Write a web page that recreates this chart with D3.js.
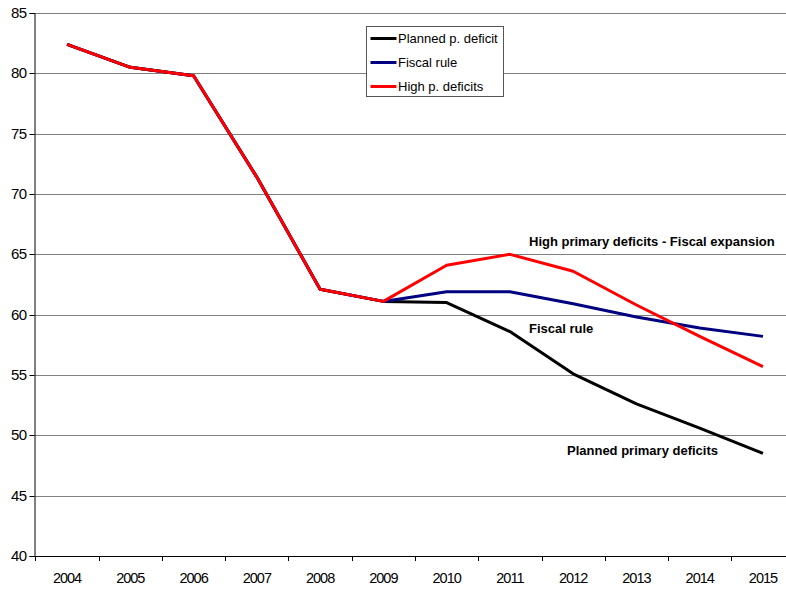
<!DOCTYPE html>
<html>
<head>
<meta charset="utf-8">
<script src="https://cdn.jsdelivr.net/npm/d3@7"></script>
<style>
  html, body { margin: 0; padding: 0; background: #fff; }
  svg { display: block; font-family: Arial, "Liberation Sans", sans-serif; }
</style>
</head>
<body>
<svg id="chart" width="786" height="591"></svg>
<script>
// Debt ratio paths under three fiscal scenarios
const years = ["2004","2005","2006","2007","2008","2009","2010","2011","2012","2013","2014","2015"];
const plannedDeficit = [82.4, 80.5, 79.8, 71.4, 62.1, 61.1, 61.0, 58.6, 55.1, 52.6, 50.6, 48.5];
const fiscalRule     = [82.4, 80.5, 79.8, 71.4, 62.1, 61.1, 61.9, 61.9, 60.9, 59.8, 58.9, 58.2];
const highDeficits   = [82.4, 80.5, 79.8, 71.4, 62.1, 61.1, 64.1, 65.0, 63.6, 60.8, 58.2, 55.7];
const yTicks = [40, 45, 50, 55, 60, 65, 70, 75, 80, 85];

const seriesNames  = ["Planned p. deficit", "Fiscal rule", "High p. deficits"];
const seriesColors = ["#000000", "#000080", "#ff0000"];
const seriesValues = [plannedDeficit, fiscalRule, highDeficits];

const svg = d3.select("#chart");
const W = 786;

const x = d3.scaleBand().domain(years).range([35.4, 794.6]).padding(0);
const y = d3.scaleLinear().domain([40, 85]).range([556, 13]);
const xc = d => x(d) + x.bandwidth() / 2;

// Horizontal gridlines
svg.append("g")
  .selectAll("line")
  .data(yTicks.filter(v => v > 40))
  .join("line")
  .attr("x1", 35).attr("x2", W)
  .attr("y1", d => Math.round(y(d)) + 0.5)
  .attr("y2", d => Math.round(y(d)) + 0.5)
  .attr("stroke", "#808080")
  .attr("stroke-width", 1);

// Y axis
const yAxis = svg.append("g")
  .attr("transform", "translate(34.5,0)")
  .call(d3.axisLeft(y).tickValues(yTicks).tickSize(5).tickPadding(3).tickFormat(d3.format("d")));
yAxis.select(".domain").attr("stroke", "#000");
yAxis.selectAll(".tick line").attr("stroke", "#000");
yAxis.selectAll(".tick text")
  .attr("font-size", "15px").attr("fill", "#000")
  .attr("letter-spacing", "-0.6px")
  .attr("font-family", "Arial, 'Liberation Sans', sans-serif");
yAxis.selectAll(".tick").attr("transform", d => `translate(0,${Math.round(y(d)) + 0.5})`);

// X axis: labels centred in each band, ticks on band boundaries
const xAxis = svg.append("g")
  .attr("transform", "translate(0,556.5)")
  .call(d3.axisBottom(x).tickSize(0).tickPadding(16.5));
xAxis.select(".domain").remove();
xAxis.selectAll(".tick text")
  .attr("font-size", "14.5px").attr("fill", "#000")
  .attr("letter-spacing", "-1px")
  .attr("font-family", "Arial, 'Liberation Sans', sans-serif");

const boundaries = years.map(d => x(d)).concat([x.range()[1]]);
svg.append("g")
  .selectAll("line")
  .data(boundaries)
  .join("line")
  .attr("x1", d => Math.round(d) + 0.5).attr("x2", d => Math.round(d) + 0.5)
  .attr("y1", 556).attr("y2", 561)
  .attr("stroke", "#000");

svg.append("line")
  .attr("x1", 34).attr("x2", W)
  .attr("y1", 556.5).attr("y2", 556.5)
  .attr("stroke", "#000");

// Scenario lines
const line = d3.line()
  .x((d, i) => xc(years[i]))
  .y(d => y(d));

svg.append("g")
  .selectAll("path")
  .data(seriesValues)
  .join("path")
  .attr("d", d => line(d))
  .attr("fill", "none")
  .attr("stroke", (d, i) => seriesColors[i])
  .attr("stroke-width", 3)
  .attr("stroke-linejoin", "round");

// Series annotations
const notes = [
  { text: "High primary deficits - Fiscal expansion", x: 529, y: 246 },
  { text: "Fiscal rule", x: 529, y: 333 },
  { text: "Planned primary deficits", x: 567, y: 455 }
];
svg.append("g")
  .selectAll("text")
  .data(notes)
  .join("text")
  .attr("x", d => d.x).attr("y", d => d.y)
  .attr("font-size", "13px")
  .attr("font-weight", "bold")
  .attr("fill", "#000")
  .text(d => d.text);

// Legend
const legend = svg.append("g").attr("transform", "translate(366.5,26.5)");
legend.append("rect")
  .attr("width", 137).attr("height", 70)
  .attr("fill", "#fff").attr("stroke", "#555").attr("stroke-width", 1);
const items = legend.selectAll("g.item")
  .data(seriesNames)
  .join("g")
  .attr("class", "item")
  .attr("transform", (d, i) => `translate(0,${12 + i * 24})`);
items.append("line")
  .attr("x1", 4).attr("x2", 30)
  .attr("stroke", (d, i) => seriesColors[i])
  .attr("stroke-width", 3);
items.append("text")
  .attr("x", 31.5).attr("y", 0)
  .attr("dy", "0.35em")
  .attr("font-size", "13px")
  .attr("fill", "#000")
  .text(d => d);
</script>
</body>
</html>
